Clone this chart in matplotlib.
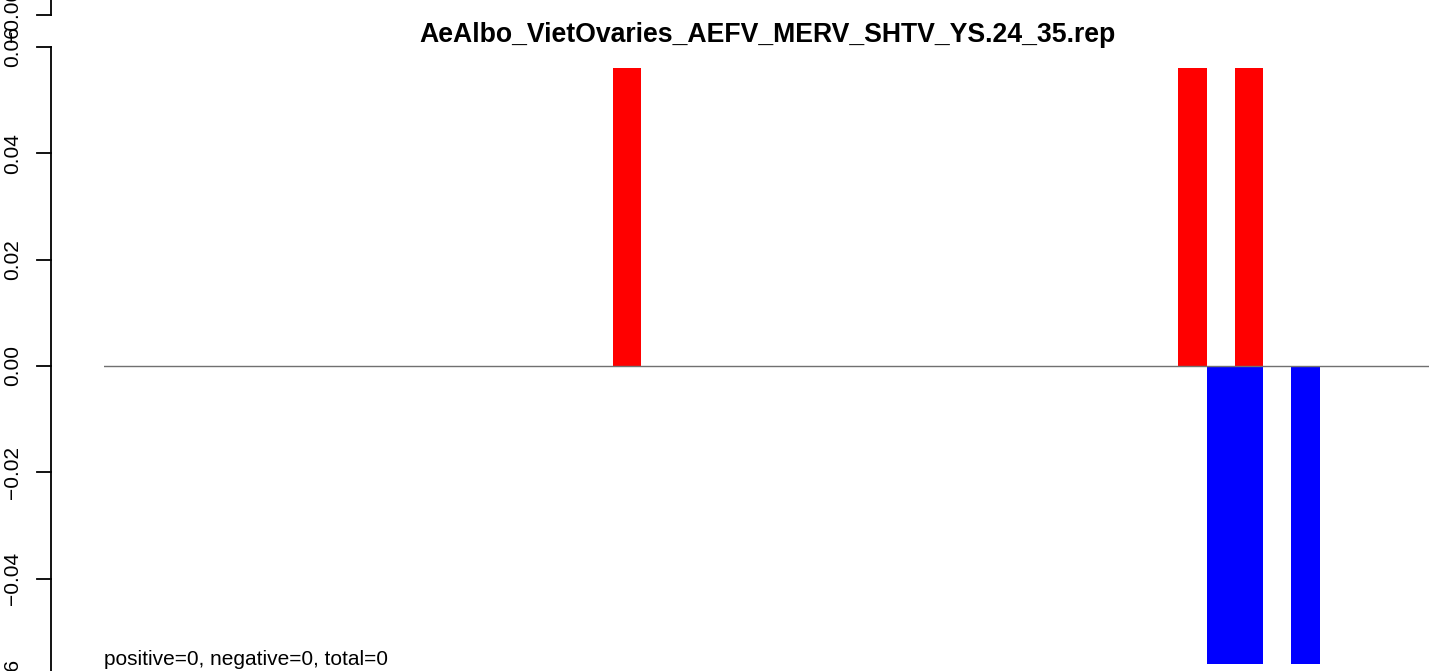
import matplotlib
matplotlib.use("Agg")
import matplotlib.pyplot as plt
from matplotlib.transforms import blended_transform_factory
import numpy as np

# ---- data ----
title = "AeAlbo_VietOvaries_AEFV_MERV_SHTV_YS.24_35.rep"
footer = "positive=0, negative=0, total=0"
pos_positions = [18, 38, 40]          # bar index (left edge) of positive bars
pos_values = [0.056, 0.056, 0.056]
neg_positions = [39, 40, 42]          # bar index (left edge) of negative bars
neg_values = [-0.056, -0.056, -0.056]
yticks = [-0.06, -0.04, -0.02, 0.0, 0.02, 0.04, 0.06]
ytick_labels = ["\u22120.06", "\u22120.04", "\u22120.02", "0.00", "0.02", "0.04", "0.06"]

W, H, DPI = 1429, 671, 100
plt.rcParams['font.family'] = ['Liberation Sans', 'DejaVu Sans']

fig = plt.figure(figsize=(W / DPI, H / DPI), dpi=DPI)
ax = fig.add_axes([104 / W, 0, 1 - 104 / W, 1])

px_per_unit = 319 / 0.06
ytop = 366 / px_per_unit
ybot = -(H - 366) / px_per_unit

ax.bar(pos_positions, pos_values, width=1, align='edge', color='#FF0000', linewidth=0, zorder=2)
ax.bar(neg_positions, neg_values, width=1, align='edge', color='#0000FF', linewidth=0, zorder=2)
ax.axhline(0, color='#707070', linewidth=1.0, zorder=3)

for s in ['top', 'right', 'bottom']:
    ax.spines[s].set_visible(False)
ax.set_xticks([])
ax.spines['left'].set_visible(False)
ax.set_yticks([])

# R-style left axis drawn in figure-x / data-y coordinates (cropped at the image edge)
tr = blended_transform_factory(fig.transFigure, ax.transData)
axis_x, tick_x0, label_x = 51 / W, 37 / W, 22 / W
ax.plot([axis_x, axis_x], [min(yticks), max(yticks)], color='black', lw=1.3,
        transform=tr, clip_on=False, scalex=False, scaley=False)
for v, lab in zip(yticks, ytick_labels):
    ax.plot([tick_x0, axis_x], [v, v], color='black', lw=1.3, transform=tr,
            clip_on=False, scalex=False, scaley=False)
    ax.text(label_x, v, lab, rotation=90, ha='right', va='center', fontsize=15,
            transform=tr, clip_on=False)

# remnant of the neighbouring panel's axis above (cropped)
y_prev = (366 - 15) / px_per_unit
ax.plot([axis_x, axis_x], [y_prev, ytop + 1], color='black', lw=1.3, transform=tr,
        clip_on=False, scalex=False, scaley=False)
ax.plot([tick_x0, axis_x], [y_prev, y_prev], color='black', lw=1.3, transform=tr,
        clip_on=False, scalex=False, scaley=False)
ax.text(label_x, y_prev, "\u22120.06", rotation=90, ha='right', va='center', fontsize=15,
        transform=tr, clip_on=False)

ax.set_ylim(ybot, ytop)
ax.set_xlim(0, (W - 104) / 28.27)

fig.text(767 / W, (H - 42) / H, title, ha='center', va='baseline', fontsize=19.2, fontweight='bold')
fig.text(104 / W, (H - 665) / H, footer, ha='left', va='baseline', fontsize=15)

fig.savefig("out.png", dpi=DPI)
